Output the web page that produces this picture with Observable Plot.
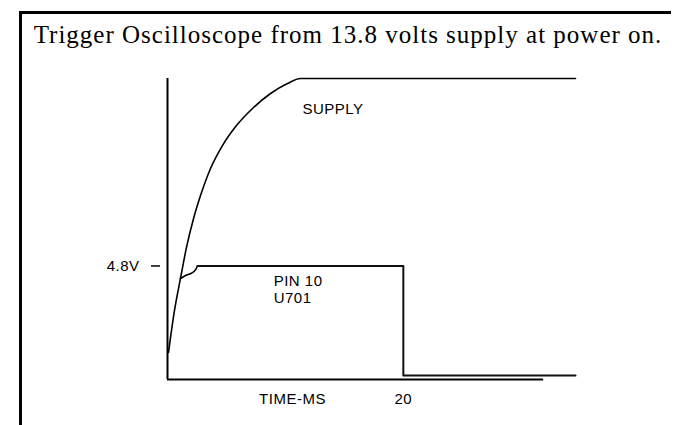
<!DOCTYPE html>
<html>
<head>
<meta charset="utf-8">
<script src="https://cdn.jsdelivr.net/npm/d3@7"></script>
<script src="https://cdn.jsdelivr.net/npm/@observablehq/plot@0.6"></script>
<style>
  html, body { margin: 0; padding: 0; background: #fff; overflow: hidden; }
  #page { position: relative; width: 673px; height: 425px; overflow: hidden; }
  #frameTop { position: absolute; left: 19px; top: 11px; width: 652px; height: 3px; background: #000; }
  #frameLeft { position: absolute; left: 19px; top: 11px; width: 3px; height: 414px; background: #000; }
  #title { position: absolute; left: 22px; top: 21px; width: 652px; text-align: center;
           font-family: "Liberation Serif", "Times New Roman", serif; font-size: 25px; letter-spacing: 1px;
           color: #000; white-space: nowrap; }
  #chart { position: absolute; left: 0; top: 0; }
</style>
</head>
<body>
<div id="page">
  <div id="frameTop"></div>
  <div id="frameLeft"></div>
  <div id="title">Trigger Oscilloscope from 13.8 volts supply at power on.</div>
  <div id="chart"></div>
</div>
<script>
// Time in ms, level in volts
const supplyTime  = [0.085, 0.59, 1.10, 1.61, 2.21, 2.80, 3.65, 4.66, 5.85, 7.21, 8.74, 10.18, 11.28, 34.6];
const supplyVolts = [0.65, 2.66, 4.20, 5.69, 7.08, 8.18, 9.48, 10.58, 11.54, 12.36, 13.08, 13.56, 13.80, 13.80];

const pinRiseTime  = [1.10, 1.53, 2.08, 2.37, 2.54];
const pinRiseVolts = [4.20, 4.34, 4.47, 4.61, 4.80];

const pinStepTime  = [2.54, 20, 20, 34.6];
const pinStepVolts = [4.80, 4.80, -0.46, -0.46];

const axisBaseVolts = -0.65;
const axisTopVolts = 13.8;
const axisEndTime = 31.9;

const yTicks = [4.8];
const yTickLabels = ["4.8V"];
const xTicks = [20];
const xTickLabels = ["20"];
const xTitle = "TIME-MS";
const xTitleTime = 10.6;
const xLabelVolts = -1.61;

const curveLabels = ["SUPPLY", "PIN 10", "U701"];
const curveLabelTime = [11.44, 9.0, 9.0];
const curveLabelVolts = [12.31, 4.06, 3.24];

const zip = (xs, ys) => xs.map((x, i) => ({x, y: ys[i]}));
const supply = zip(supplyTime, supplyVolts);
const pinRise = zip(pinRiseTime, pinRiseVolts);
const pinStep = zip(pinStepTime, pinStepVolts);
const labels = curveLabels.map((t, i) => ({t, x: curveLabelTime[i], y: curveLabelVolts[i]}));
const xLabs = [{t: xTitle, x: xTitleTime, a: "middle"}, ...xTicks.map((x, i) => ({t: xTickLabels[i], x, a: "start"}))];

const sans = "'Liberation Sans', Arial, Helvetica, sans-serif";

const chart = Plot.plot({
  width: 673,
  height: 425,
  marginLeft: 167,
  marginRight: 98,
  marginTop: 78,
  marginBottom: 46,
  style: {fontFamily: sans, fontSize: "15px", background: "transparent", color: "#000", letterSpacing: "0.5px"},
  x: {domain: [0, 34.6], axis: null},
  y: {domain: [axisBaseVolts, axisTopVolts], axis: null},
  marks: [
    Plot.ruleX([0], {y1: axisBaseVolts, y2: axisTopVolts, stroke: "#000", strokeWidth: 2}),
    Plot.ruleY([axisBaseVolts], {x1: 0, x2: axisEndTime, stroke: "#000", strokeWidth: 2}),
    Plot.axisY(yTicks, {tickFormat: (d, i) => yTickLabels[i], tickSize: 9, dx: -7, tickPadding: 12,
                        fontSize: 15, stroke: "#000", strokeWidth: 1.5, label: null}),
    Plot.line(supply, {x: "x", y: "y", curve: "monotone-x", stroke: "#000", strokeWidth: 1.6}),
    Plot.line(pinRise, {x: "x", y: "y", curve: "monotone-x", stroke: "#000", strokeWidth: 1.6}),
    Plot.line(pinStep, {x: "x", y: "y", stroke: "#111", strokeWidth: 2}),
    Plot.text(labels, {x: "x", y: "y", text: "t", textAnchor: "start", fontSize: 15, fill: "#000"}),
    Plot.text(xLabs, {x: "x", y: () => xLabelVolts, text: "t", textAnchor: d => d.a, fontSize: 15, fill: "#000"})
  ]
});
document.getElementById("chart").appendChild(chart);
</script>
</body>
</html>
